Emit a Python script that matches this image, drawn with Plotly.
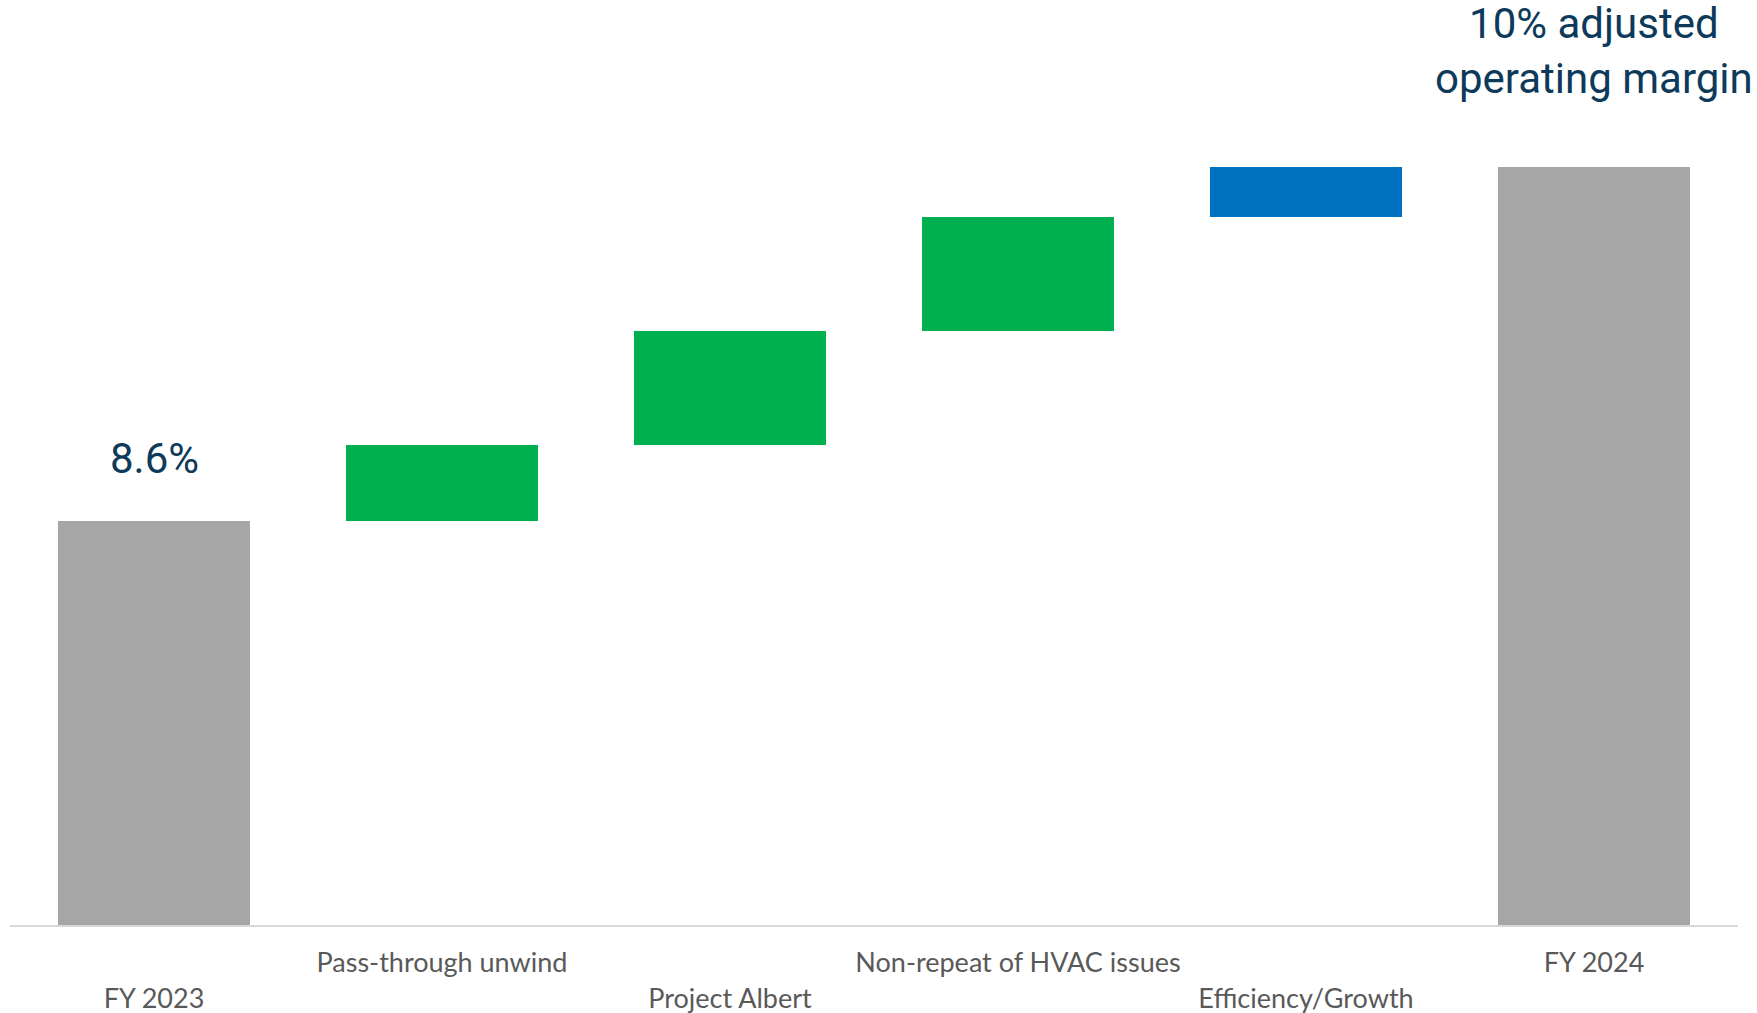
import plotly.graph_objects as go

# ---- data ----
categories = ["FY 2023", "Pass-through unwind", "Project Albert",
              "Non-repeat of HVAC issues", "Efficiency/Growth", "FY 2024"]
values = [8.6, 0.3, 0.45, 0.45, 0.2, 10.0]
measures = ["total", "relative", "relative", "relative", "relative", "total"]
start_label = "8.6%"
end_label = "10% adjusted<br>operating margin"
axis_floor = 7.0

# ---- styles ----
bar_colors = ["#A6A6A6", "#00B050", "#00B050", "#00B050", "#0070C0", "#A6A6A6"]
navy = "#0D3A5A"

# compute bases / heights from the data
bases, heights = [], []
running = 0.0
for v, m in zip(values, measures):
    if m == "total":
        bases.append(0.0)
        heights.append(v)
        running = v
    else:
        bases.append(running)
        heights.append(v)
        running += v

xs = list(range(len(categories)))
ticktext = [c if i % 2 == 1 else "<br>" + c for i, c in enumerate(categories)]

fig = go.Figure()
fig.add_trace(go.Bar(
    x=xs, y=heights, base=bases,
    marker=dict(color=bar_colors, line=dict(width=0)),
    width=0.665, hoverinfo="skip", showlegend=False,
))

fig.add_annotation(x=0, y=8.847, xref="x", yref="y", text=start_label,
                   showarrow=False, yanchor="middle",
                   font=dict(family="Roboto", size=42, color=navy))
fig.add_annotation(x=5, y=0.9454, xref="x", yref="paper", text=end_label,
                   showarrow=False, yanchor="middle",
                   font=dict(family="Roboto", size=42, color=navy))

fig.update_layout(
    width=1757, height=1013,
    margin=dict(l=10, r=19, t=0, b=88),
    paper_bgcolor="white", plot_bgcolor="white",
    bargap=0,
    xaxis=dict(range=[-0.5, 5.5], tickvals=xs, ticktext=ticktext,
               showline=True, linecolor="#D9D9D9", linewidth=2,
               showgrid=False, zeroline=False, ticks="",
               ticklabelstandoff=13,
               tickfont=dict(family="Lato", size=27, color="#595959")),
    yaxis=dict(range=[axis_floor, 10.659], visible=False, showgrid=False,
               zeroline=False),
)

fig.write_html("out.html")
